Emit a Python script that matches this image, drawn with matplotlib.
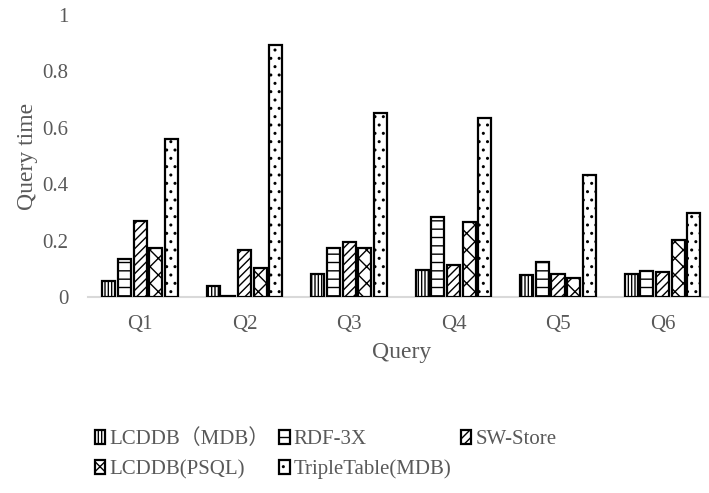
import numpy as np
import matplotlib
matplotlib.use("Agg")
import matplotlib.pyplot as plt

# Abfragezeiten je Query und System
queries = ["Q1", "Q2", "Q3", "Q4", "Q5", "Q6"]
lcddb_mdb = [0.055, 0.04, 0.08, 0.097, 0.078, 0.08]
rdf3x = [0.135, 0.003, 0.175, 0.282, 0.123, 0.092]
sw_store = [0.271, 0.166, 0.194, 0.114, 0.082, 0.087]
lcddb_psql = [0.172, 0.103, 0.172, 0.266, 0.068, 0.202]
tripletable = [0.559, 0.893, 0.651, 0.634, 0.433, 0.298]

labels = ["LCDDB（MDB）", "RDF-3X", "SW-Store", "LCDDB(PSQL)", "TripleTable(MDB)"]
series = [lcddb_mdb, rdf3x, sw_store, lcddb_psql, tripletable]
hatches = ["|||||", "--", "////", "xx", ".."]

plt.rcParams["font.family"] = ["Liberation Serif", "Noto Sans CJK SC"]
plt.rcParams["hatch.linewidth"] = 1.0
grau = "#595959"

fig = plt.figure(figsize=(7.09, 4.93), dpi=100)
ax = fig.add_axes([0.124, 0.3976, 0.884, 0.572])

x = np.arange(len(queries))
slot = 0.15
breite = 0.125
bars = []
for i, (werte, h, lab) in enumerate(zip(series, hatches, labels)):
    b = ax.bar(x + (i - 2) * slot, werte, breite, color="white", edgecolor="black",
               hatch=h, linewidth=1.6, label=lab, zorder=3)
    bars.append(b)

ax.set_xlim(-0.5, 5.5)
ax.set_ylim(0, 1)
ax.set_yticks([0, 0.2, 0.4, 0.6, 0.8, 1])
ax.set_yticklabels(["0", "0.2", "0.4", "0.6", "0.8", "1"])
ax.set_xticks(x)
ax.set_xticklabels(queries)
ax.tick_params(axis="both", length=0, labelsize=15, labelcolor=grau)
ax.tick_params(axis="y", pad=14)
ax.tick_params(axis="x", pad=13)

for s in ["top", "right", "left"]:
    ax.spines[s].set_visible(False)
ax.spines["bottom"].set_color("#d9d9d9")
ax.spines["bottom"].set_linewidth(1.5)
ax.spines["bottom"].set_zorder(2)

ax.set_ylabel("Query time", fontsize=17, color=grau, labelpad=3)
ax.set_xlabel("Query", fontsize=17, color=grau, labelpad=6)

# Legende zeilenweise wie im Original
reihenfolge = [0, 3, 1, 4, 2]
fig.legend([bars[i] for i in reihenfolge], [labels[i] for i in reihenfolge],
           ncol=3, loc="upper left", bbox_to_anchor=(0.134, 0.129),
           frameon=False, fontsize=15, labelcolor=grau, handlelength=0.5,
           handleheight=0.7, handletextpad=0.2, columnspacing=0.45,
           labelspacing=0.5, borderpad=0, borderaxespad=0)

fig.savefig("out.png", dpi=100)
